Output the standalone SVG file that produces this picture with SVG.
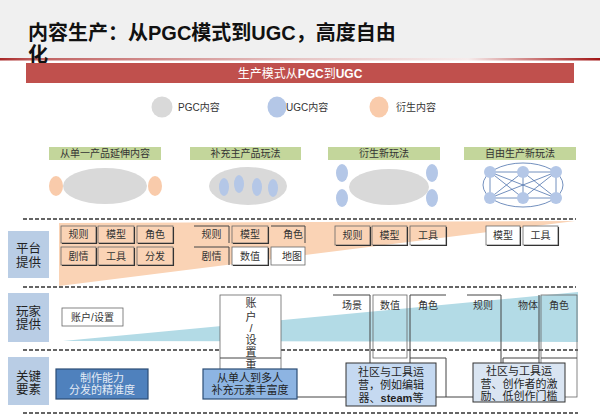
<svg xmlns="http://www.w3.org/2000/svg" width="600" height="420" viewBox="0 0 600 420">
<defs>
<linearGradient id="redline" x1="0" x2="1" y1="0" y2="0">
<stop offset="0" stop-color="#a82828"/>
<stop offset="0.06" stop-color="#c06060"/>
<stop offset="0.5" stop-color="#e6c4c4"/>
<stop offset="0.78" stop-color="#f6ecec"/>
<stop offset="0.9" stop-color="#c87070"/>
<stop offset="1" stop-color="#a01414"/>
</linearGradient>
<style>
text{font-family:"Liberation Sans","Noto Sans CJK SC",sans-serif;fill:#333}
.c{text-anchor:middle}
.t10{font-size:10px}
.t11{font-size:11px}
.lab{font-size:12.5px;fill:#222}
.bx{fill:none;stroke:#666;stroke-width:0.8}
.bw{fill:#fff;stroke:#666;stroke-width:0.8}
.sh{fill:none;stroke:#333;stroke-width:1.1}
.ln{fill:none;stroke:#444;stroke-width:1}
.dash{stroke:#333;stroke-width:1.6;stroke-dasharray:4 2}
.green{fill:#c3d69b}
.gray{fill:#d9d9d9}
.blue{fill:#b4c7e7}
.org{fill:#f9cbab}
.side{fill:#b9cde5}
.net{stroke:#4f74ad;stroke-width:0.8;fill:none}
</style>
</defs>
<rect width="600" height="420" fill="#fff"/>

<g id="title">
<rect x="0" y="0" width="600" height="58" fill="#f0f0f0"/>
<rect x="0" y="58" width="600" height="2.5" fill="url(#redline)"/>
<text x="28" y="40" font-size="20" font-weight="bold" style="fill:#111">内容生产：从PGC模式到UGC，高度自由</text>
<text x="28" y="62" font-size="20" font-weight="bold" style="fill:#111">化</text>
</g>

<g id="banner">
<rect x="26" y="63" width="548" height="20" fill="#c0504d"/>
<text class="c" x="300" y="78" font-size="12" style="fill:#fff">生产模式从<tspan font-weight="bold">PGC</tspan>到<tspan font-weight="bold">UGC</tspan></text>
</g>

<g id="legend">
<ellipse class="gray" cx="162" cy="107" rx="10.5" ry="10.5"/>
<text class="t10" x="178" y="111">PGC内容</text>
<ellipse class="blue" cx="277" cy="107" rx="9.5" ry="10.5"/>
<text class="t10" x="286" y="111">UGC内容</text>
<ellipse class="org" cx="379" cy="107" rx="9.5" ry="10.5"/>
<text class="t10" x="396" y="111">衍生内容</text>
</g>

<g id="stage1">
<rect class="green" x="49" y="147" width="112" height="13"/>
<text class="c t10" x="105" y="157">从单一产品延伸内容</text>
<ellipse class="gray" cx="105" cy="186" rx="42" ry="18"/>
<ellipse class="org" cx="56" cy="186" rx="7" ry="10"/>
<ellipse class="org" cx="155" cy="186" rx="7" ry="10"/>
</g>
<g id="stage2">
<rect class="green" x="190" y="147" width="111" height="13"/>
<text class="c t10" x="245.5" y="157">补充主产品玩法</text>
<ellipse class="gray" cx="248" cy="186" rx="39" ry="19"/>
<ellipse class="blue" cx="224" cy="187" rx="5" ry="9"/>
<ellipse class="blue" cx="239" cy="184" rx="5" ry="9"/>
<ellipse class="blue" cx="257" cy="187" rx="5" ry="9"/>
<ellipse class="blue" cx="273" cy="188" rx="5" ry="9"/>
</g>
<g id="stage3">
<rect class="green" x="328" y="147" width="112" height="13"/>
<text class="c t10" x="384" y="157">衍生新玩法</text>
<ellipse class="gray" cx="389" cy="187" rx="40" ry="18"/>
<ellipse class="blue" cx="342" cy="173" rx="6" ry="9"/>
<ellipse class="blue" cx="342" cy="198" rx="6" ry="9"/>
<ellipse class="blue" cx="432" cy="173" rx="6" ry="9"/>
<ellipse class="blue" cx="432" cy="198" rx="6" ry="9"/>
</g>
<g id="stage4">
<rect class="green" x="464" y="147" width="112" height="13"/>
<text class="c t10" x="520" y="157">自由生产新玩法</text>
<ellipse class="net" cx="523" cy="185" rx="40" ry="22"/>
</g>

<g id="connectors">
<path class="net" d="M490,172 H556 M490,198 H556 M490,172 V198 M523,172 V198 M556,172 V198 M490,172 L523,198 M490,172 L556,198 M523,172 L490,198 M523,172 L556,198 M556,172 L490,198 M556,172 L523,198"/>
</g>
<g id="network-nodes">
<circle class="blue" cx="490" cy="172" r="6"/>
<circle class="blue" cx="523" cy="172" r="6"/>
<circle class="blue" cx="556" cy="172" r="6"/>
<circle class="blue" cx="490" cy="198" r="6"/>
<circle class="blue" cx="523" cy="198" r="6"/>
<circle class="blue" cx="556" cy="198" r="6"/>
</g>

<g id="wedges">
<polygon points="59,223 575,221 59,286" fill="#fad3b5"/>
<polygon points="63,341 578,292 578,342" fill="#b3dbe6"/>
</g>

<g id="separators">
<line class="dash" x1="23" y1="219" x2="576" y2="219"/>
<line class="dash" x1="23" y1="287" x2="576" y2="287"/>
<line class="dash" x1="23" y1="350" x2="578" y2="350"/>
<line class="dash" x1="23" y1="413" x2="578" y2="413"/>
</g>

<g id="row-labels">
<rect class="side" x="8" y="231" width="41" height="47"/>
<text class="c lab" x="28.5" y="253">平台</text>
<text class="c lab" x="28.5" y="267">提供</text>
<rect class="side" x="8" y="293" width="41" height="49"/>
<text class="c lab" x="28.5" y="316">玩家</text>
<text class="c lab" x="28.5" y="329">提供</text>
<rect class="side" x="8" y="357" width="41" height="48"/>
<text class="c lab" x="28.5" y="381">关键</text>
<text class="c lab" x="28.5" y="394">要素</text>
</g>

<g id="platform-group1">
<rect class="bx" x="61" y="226" width="35" height="17"/><path class="sh" d="M96.5,227 V243.5 H62"/>
<text class="c t10" x="78.5" y="238">规则</text>
<rect class="bx" x="98" y="226" width="36" height="17"/><path class="sh" d="M134.5,227 V243.5 H99"/>
<text class="c t10" x="116" y="238">模型</text>
<rect class="bx" x="137" y="226" width="36" height="17"/><path class="sh" d="M173.5,227 V243.5 H138"/>
<text class="c t10" x="155" y="238">角色</text>
<rect class="bx" x="61" y="247" width="35" height="18"/><path class="sh" d="M96.5,248 V265.5 H62"/>
<text class="c t10" x="78.5" y="260">剧情</text>
<rect class="bx" x="98" y="247" width="36" height="18"/><path class="sh" d="M134.5,248 V265.5 H99"/>
<text class="c t10" x="116" y="260">工具</text>
<rect class="bx" x="137" y="247" width="36" height="18"/><path class="sh" d="M173.5,248 V265.5 H138"/>
<text class="c t10" x="155" y="260">分发</text>
</g>

<g id="platform-group2">
<path class="ln" d="M194,226 H229 V243"/>
<text class="c t10" x="211.5" y="238">规则</text>
<rect class="bx" x="232" y="226" width="36" height="17"/><path class="sh" d="M268.5,227 V243.5 H233"/>
<text class="c t10" x="250" y="238">模型</text>
<path class="ln" d="M271,226 H305 V243"/>
<text class="c t10" x="293" y="238">角色</text>
<path class="ln" d="M194,247 H229 V265"/>
<text class="c t10" x="211.5" y="260">剧情</text>
<rect class="bw" x="232" y="247" width="36" height="18"/><path class="sh" d="M268.5,248 V265.5 H233"/>
<text class="c t10" x="250" y="260">数值</text>
<rect class="bw" x="271" y="247" width="34" height="18"/>
<text class="c t10" x="292" y="260">地图</text>
</g>

<g id="platform-group3">
<rect class="bx" x="335" y="226" width="35" height="19"/><path class="sh" d="M370.5,227 V245.5 H336"/>
<text class="c t10" x="352.5" y="239">规则</text>
<rect class="bx" x="372" y="226" width="35" height="19"/><path class="sh" d="M407.5,227 V245.5 H373"/>
<text class="c t10" x="389.5" y="239">模型</text>
<rect class="bx" x="410" y="226" width="36" height="19"/><path class="sh" d="M446.5,227 V245.5 H411"/>
<text class="c t10" x="428" y="239">工具</text>
</g>

<g id="platform-group4">
<rect class="bw" x="486" y="226" width="34" height="19"/><path class="sh" d="M520.5,227 V245.5 H487"/>
<text class="c t10" x="503" y="239">模型</text>
<rect class="bw" x="523" y="226" width="35" height="19"/><path class="sh" d="M558.5,227 V245.5 H524"/>
<text class="c t10" x="540.5" y="239">工具</text>
</g>

<g id="player-items">
<rect class="bw" x="62" y="308" width="61" height="18"/>
<text class="c t10" x="92.5" y="321">账户/设置</text>
<rect class="bw" x="220" y="295" width="61" height="102"/>
<line class="ln" x1="220" y1="358" x2="281" y2="358"/>
<text class="c t11" x="251" y="307">账</text>
<text class="c t11" x="251" y="321">户</text>
<text class="c t11" x="251" y="332">/</text>
<text class="c t11" x="251" y="344">设</text>
<text class="c t11" x="251" y="356">置</text>
<text class="c t11" x="251" y="369">重</text>
<path class="ln" d="M281,397 H346"/>
<path class="ln" d="M333,295 H370 V363"/>
<text class="c t10" x="352" y="309">场景</text>
<rect class="bx" x="373" y="295" width="34" height="63"/>
<text class="c t10" x="390" y="309">数值</text>
<path class="ln" d="M410,397 V295 H446 M410,358 H446 V397 M410,397 H473"/>
<text class="c t10" x="428" y="309">角色</text>
<path class="ln" d="M467,295 H501 V364"/>
<text class="c t10" x="483" y="309">规则</text>
<path class="ln" d="M503,364 V358 H539 M539,295 V364"/>
<text class="c t10" x="528" y="309">物体</text>
<rect class="bx" x="541" y="295" width="36" height="102"/>
<line class="ln" x1="541" y1="358" x2="577" y2="358"/>
<text class="c t10" x="559" y="309">角色</text>
</g>

<g id="key-factor1">
<rect x="56" y="369" width="92" height="30" fill="#4f81bd" stroke="#2c4d75" stroke-width="1.2"/>
<text class="c t11" x="102" y="382" style="fill:#e4ebf5">制作能力</text>
<text class="c t11" x="102" y="394" style="fill:#e4ebf5">分发的精准度</text>
</g>
<g id="key-factor2">
<rect x="203" y="369" width="94" height="30" fill="#8db4e2" stroke="#2c4d75" stroke-width="1.2"/>
<text class="c t11" x="250" y="382" style="fill:#1f1f1f">从单人到多人</text>
<text class="c t11" x="250" y="394" style="fill:#1f1f1f">补充元素丰富度</text>
</g>
<g id="key-factor3">
<rect x="346" y="363" width="90" height="43" fill="#c5d9f1" stroke="#333" stroke-width="1"/>
<text class="c t11" x="391" y="376" style="fill:#1f1f1f">社区与工具运</text>
<text class="c t11" x="391" y="389" style="fill:#1f1f1f">营，例如编辑</text>
<text class="c t11" x="391" y="402" style="fill:#1f1f1f">器、<tspan font-weight="bold">steam</tspan>等</text>
</g>
<g id="key-factor4">
<rect x="473" y="363" width="92" height="39" fill="#dae5f2" stroke="#333" stroke-width="1"/>
<text class="c t11" x="519" y="375" style="fill:#1f1f1f">社区与工具运</text>
<text class="c t11" x="519" y="388" style="fill:#1f1f1f">营、创作者的激</text>
<text class="c t11" x="519" y="400" style="fill:#1f1f1f">励、低创作门槛</text>
</g>
</svg>
